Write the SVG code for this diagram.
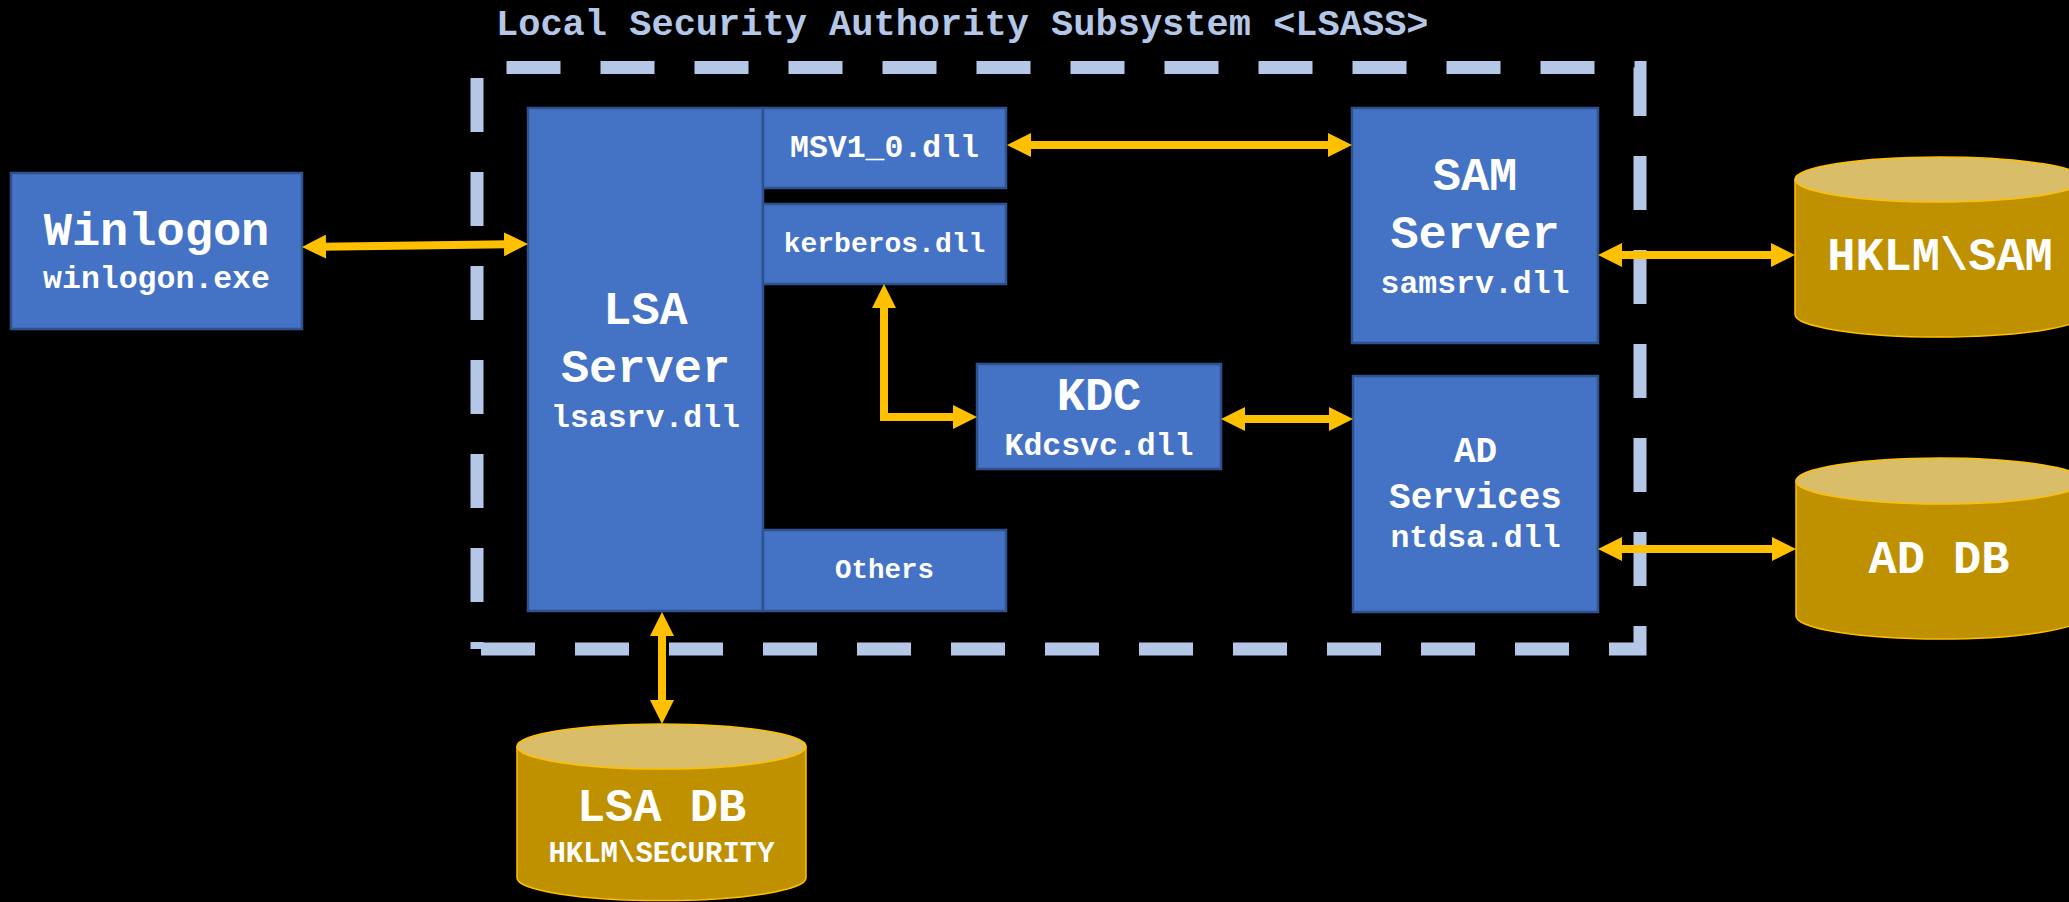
<svg xmlns="http://www.w3.org/2000/svg" width="2069" height="902" viewBox="0 0 2069 902">
<style>
.bg{fill:#000}
.box{fill:#4472C4;stroke:#2F528F;stroke-width:2.5}
.t{font-family:"Liberation Mono","Courier New",monospace;font-weight:bold;fill:#FFFFFF;text-anchor:middle}
.big{font-size:47px}
.mid{font-size:36px}
.sub{font-size:31.5px}
.sm{font-size:28px}
.title{font-family:"Liberation Mono","Courier New",monospace;font-weight:bold;fill:#B4C7E7;font-size:37px}
.border{fill:none;stroke:#B4C7E7;stroke-width:13;stroke-dasharray:54 40;stroke-dashoffset:47;stroke-linejoin:miter}
.cyl{fill:#BF9000;stroke:#FFC000;stroke-width:1.5}
.cyltop{fill:#D9BD68;stroke:#FFC000;stroke-width:1.5}
.conn{fill:none;stroke:#FFC000;stroke-width:8;marker-start:url(#ah);marker-end:url(#ah)}
</style>
<defs>
<marker id="ah" markerUnits="userSpaceOnUse" markerWidth="24" markerHeight="24" refX="4" refY="12" orient="auto-start-reverse" viewBox="0 0 24 24">
<path d="M0,0 L24,12 L0,24 Z" fill="#FFC000"/>
</marker>
</defs>
<rect class="bg" x="0" y="0" width="2069" height="902"/>

<g id="lsass-boundary">
<path class="border" d="M477,649 V67.5 H1640 V649 Z"/>
<text class="title" x="496" y="35">Local Security Authority Subsystem &lt;LSASS&gt;</text>
</g>

<g id="winlogon">
<rect class="box" x="11" y="173" width="291" height="156"/>
<text class="t big" x="156.5" y="245">Winlogon</text>
<text class="t sub" x="156.5" y="288">winlogon.exe</text>
</g>

<g id="lsa-server">
<rect class="box" x="528" y="108" width="235" height="503"/>
<text class="t big" x="645.5" y="324">LSA</text>
<text class="t big" x="645.5" y="382">Server</text>
<text class="t sub" x="645.5" y="427">lsasrv.dll</text>
</g>

<g id="msv1_0">
<rect class="box" x="763" y="108" width="243" height="80"/>
<text class="t sub" x="884.5" y="157">MSV1_0.dll</text>
</g>

<g id="kerberos">
<rect class="box" x="763" y="204" width="243" height="80"/>
<text class="t sm" x="884.5" y="252">kerberos.dll</text>
</g>

<g id="others">
<rect class="box" x="763" y="530" width="243" height="81"/>
<text class="t" style="font-size:27.5px" x="884.5" y="578">Others</text>
</g>

<g id="kdc">
<rect class="box" x="977" y="364" width="244" height="105"/>
<text class="t big" x="1099" y="410">KDC</text>
<text class="t sub" x="1099" y="455">Kdcsvc.dll</text>
</g>

<g id="sam-server">
<rect class="box" x="1352" y="108" width="246" height="235"/>
<text class="t big" x="1475" y="190">SAM</text>
<text class="t big" x="1475" y="248">Server</text>
<text class="t sub" x="1475" y="293">samsrv.dll</text>
</g>

<g id="ad-services">
<rect class="box" x="1353" y="376" width="245" height="236"/>
<text class="t mid" x="1475.5" y="462">AD</text>
<text class="t mid" x="1475.5" y="508">Services</text>
<text class="t sub" x="1475.5" y="547">ntdsa.dll</text>
</g>

<g id="hklm-sam">
<path class="cyl" d="M1795,179.5 V314.5 A144.5,22.5 0 0 0 2084,314.5 V179.5 Z"/>
<ellipse class="cyltop" cx="1939.5" cy="179.5" rx="144.5" ry="22.5"/>
<text class="t big" x="1940" y="270">HKLM\SAM</text>
</g>

<g id="ad-db">
<path class="cyl" d="M1796,481 V616 A144,23 0 0 0 2084,616 V481 Z"/>
<ellipse class="cyltop" cx="1940" cy="481" rx="144" ry="23"/>
<text class="t big" x="1939" y="573">AD DB</text>
</g>

<g id="lsa-db">
<path class="cyl" d="M517,746.5 V878 A144.5,22.5 0 0 0 806,878 V746.5 Z"/>
<ellipse class="cyltop" cx="661.5" cy="746.5" rx="144.5" ry="22.5"/>
<text class="t big" x="661.5" y="821">LSA DB</text>
<text class="t" style="font-size:29px" x="661.5" y="862">HKLM\SECURITY</text>
</g>

<g id="connectors">
<path class="conn" d="M322,246.7 L508,244.3"/>
<path class="conn" d="M1027,145 L1332,145"/>
<path class="conn" d="M884,304 L884,417 L957,417"/>
<path class="conn" d="M1241,419 L1333,419"/>
<path class="conn" d="M1618,255 L1775,255"/>
<path class="conn" d="M1618,549 L1776,549"/>
<path class="conn" d="M662,632 L662,704"/>
</g>
</svg>
